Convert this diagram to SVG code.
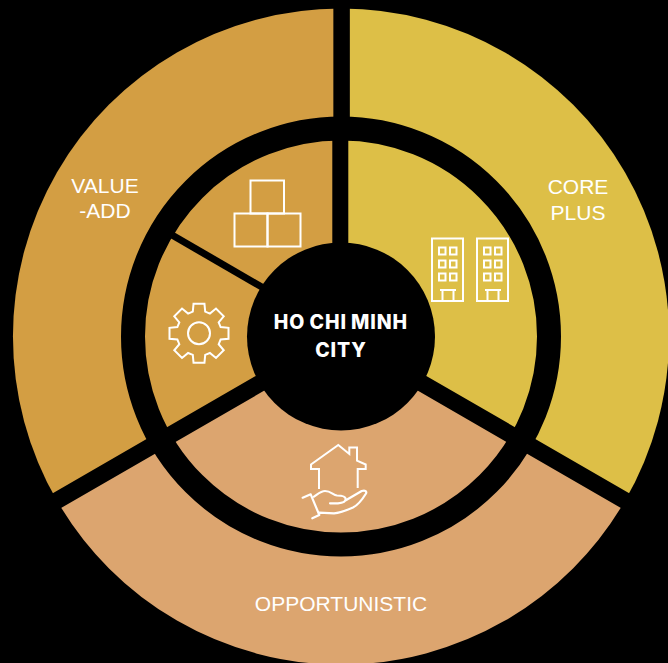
<svg xmlns="http://www.w3.org/2000/svg" width="668" height="663" viewBox="0 0 668 663">
<style>
.lbl{font-family:"Liberation Sans",Arial,sans-serif;font-size:21px;fill:#fff;text-anchor:middle}
.ttl{font-family:Inter,"Liberation Sans",sans-serif;font-size:19.5px;font-weight:800;letter-spacing:.9px;word-spacing:-1px;fill:#fff;text-anchor:middle}
.ico{fill:none;stroke:#fff;stroke-width:2;stroke-linejoin:miter}
.hand{fill:none;stroke:#fff;stroke-width:2.200;stroke-linecap:round;stroke-linejoin:round}
.div{stroke:#000;fill:none}
</style>
<defs>
<g id="bldg" class="ico">
<rect x="432" y="238.5" width="31" height="62.5"/>
<rect x="439" y="247.5" width="6.5" height="7"/><rect x="450" y="247.5" width="6.5" height="7"/>
<rect x="439" y="260.5" width="6.5" height="7"/><rect x="450" y="260.5" width="6.5" height="7"/>
<rect x="439" y="273.5" width="6.5" height="7"/><rect x="450" y="273.5" width="6.5" height="7"/>
<path d="M440 290H456M442.5 290V301M453.5 290V301"/>
</g>
</defs>
<rect width="668" height="663" fill="#000"/>
<g id="sectors">
<path id="sector-value-add" d="M341 336.500L56.900 500.500A328 328 0 0 1 341 8.500Z" fill="#D39E43"/>
<path id="sector-core-plus" d="M341 336.500V8.500A328 328 0 0 1 625.100 500.500Z" fill="#DDBF47"/>
<path id="sector-opportunistic" d="M341 336.500L625.100 500.500A328 328 0 0 1 56.900 500.500Z" fill="#DCA56F"/>
</g>
<g id="connectors">
<circle class="div" cx="341" cy="336.500" r="208" stroke-width="24"/>
<path class="div" stroke-width="16.500" d="M341.600 0V130"/>
<path class="div" stroke-width="16" d="M340.300 130V336.500"/>
<path class="div" stroke-width="17" d="M341 336.500L38 511.500M341 336.500L644 511.500"/>
<path class="div" stroke-width="7" d="M341 333L172 235"/>
</g>
<g id="node-center">
<circle cx="341" cy="336.500" r="94" fill="#000"/>
<text class="ttl" x="341" y="329">HO CHI MINH</text>
<text class="ttl" x="341" y="357.300">CITY</text>
</g>
<g id="node-value-add"><text class="lbl" x="105" y="192.500">VALUE</text><text class="lbl" x="105" y="218">-ADD</text></g>
<g id="node-core-plus"><text class="lbl" x="578" y="194">CORE</text><text class="lbl" x="578" y="220">PLUS</text></g>
<g id="node-opportunistic"><text class="lbl" x="341" y="611">OPPORTUNISTIC</text></g>
<g id="icon-boxes" class="ico">
<rect x="250.500" y="180.500" width="33.500" height="33"/>
<rect x="234.500" y="213.500" width="33" height="33"/>
<rect x="267.500" y="213.500" width="33" height="33"/>
</g>
<g id="icon-gear" class="ico" transform="translate(199 333.300)">
<polygon points="5.47,-29.5 6.2,-21.63 10.91,-19.68 16.99,-24.72 24.72,-16.99 19.68,-10.91 21.63,-6.2 29.5,-5.47 29.5,5.47 21.63,6.2 19.68,10.91 24.72,16.99 16.99,24.72 10.91,19.68 6.2,21.63 5.47,29.5 -5.47,29.5 -6.2,21.63 -10.91,19.68 -16.99,24.72 -24.72,16.99 -19.68,10.91 -21.63,6.2 -29.5,5.47 -29.5,-5.47 -21.63,-6.2 -19.68,-10.91 -24.72,-16.99 -16.99,-24.72 -10.91,-19.68 -6.2,-21.63 -5.47,-29.5"/>
<circle r="11"/>
</g>
<g id="icon-buildings"><use href="#bldg"/><use href="#bldg" x="45"/></g>
<g id="icon-house-hand">
<path class="ico" d="M319 489V469H311V464.500L338.300 445L349.300 454V447.500H357V460.700L365.700 464.500V469H357.700V488"/>
<path class="hand" d="M302.700 497.700L310.700 494.300L319.300 515L312.300 518.300M314 496.700C318 494 321 491 325 491C331 491 333 495 337 495.500C341 495.500 345.500 496 345.700 499C345.700 502 343 503 338 503.300H330M345 500.700L361.700 491C365 490 367 491 366 493.500C362 500 358 505 353 507.500C345 511 340 513 334 513.300L319.300 512.700"/>
</g>
</svg>
